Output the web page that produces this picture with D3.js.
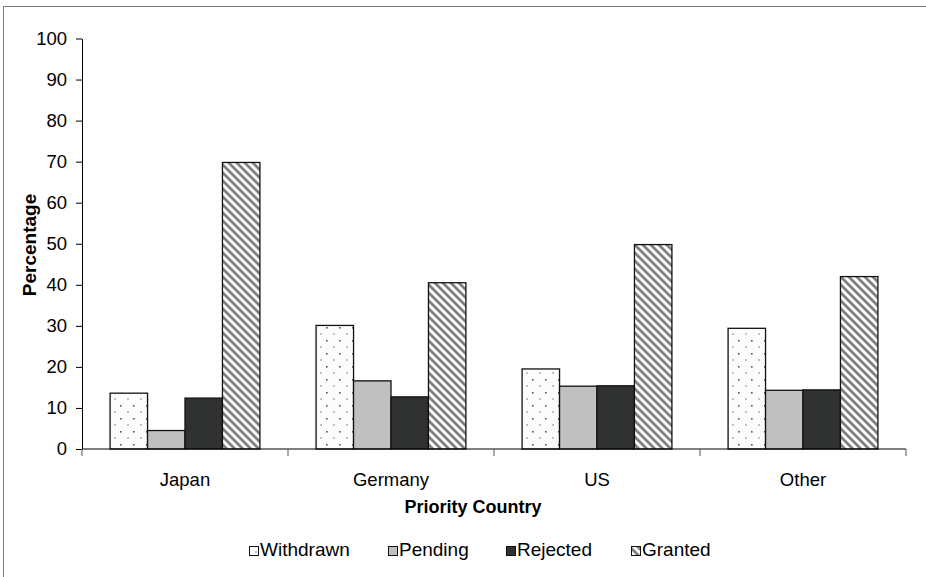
<!DOCTYPE html>
<html>
<head>
<meta charset="utf-8">
<script src="https://cdn.jsdelivr.net/npm/d3@7/dist/d3.min.js"></script>
<style>
  html, body { margin: 0; padding: 0; background: #fff; }
  svg { display: block; font-family: "Liberation Sans", Arial, sans-serif; }
</style>
</head>
<body>
<svg id="chart" width="926" height="577"></svg>
<script>
// Share of applications by outcome, per priority country (%)
const categories = ["Japan", "Germany", "US", "Other"];
const seriesNames = ["Withdrawn", "Pending", "Rejected", "Granted"];
const withdrawn = [13.6, 30.1, 19.5, 29.4];
const pending   = [4.5, 16.6, 15.3, 14.3];
const rejected  = [12.4, 12.7, 15.4, 14.4];
const granted   = [69.8, 40.5, 49.8, 42.0];
const yTicks = [0, 10, 20, 30, 40, 50, 60, 70, 80, 90, 100];

const seriesValues = [withdrawn, pending, rejected, granted];

const svg = d3.select("#chart");
const W = 926, H = 577;

// Chart frame
svg.append("rect")
  .attr("x", 3.5).attr("y", 6.5)
  .attr("width", W + 10).attr("height", H + 10)
  .attr("fill", "#fff").attr("stroke", "#7a7a7a").attr("stroke-width", 1);

// Fill patterns
const defs = svg.append("defs");
const dots = defs.append("pattern")
  .attr("id", "pat-dots").attr("patternUnits", "userSpaceOnUse")
  .attr("width", 13).attr("height", 13).attr("x", 110).attr("y", 0);
dots.append("rect").attr("width", 13).attr("height", 13).attr("fill", "#fcfcfc");
dots.append("rect").attr("x", 6).attr("y", 2).attr("width", 1.6).attr("height", 1.6).attr("fill", "#555");
dots.append("rect").attr("x", 0).attr("y", 8.5).attr("width", 2).attr("height", 1).attr("fill", "#888");

const stripes = defs.append("pattern")
  .attr("id", "pat-stripes").attr("patternUnits", "userSpaceOnUse")
  .attr("width", 8).attr("height", 8);
stripes.append("rect").attr("width", 8).attr("height", 8).attr("fill", "#fff");
stripes.append("path")
  .attr("d", "M-2,6 L2,10 M0,0 L8,8 M6,-2 L10,2")
  .attr("stroke", "#808080").attr("stroke-width", 2.8);

const fills = {
  Withdrawn: "url(#pat-dots)",
  Pending: "#c0c0c0",
  Rejected: "#303231",
  Granted: "url(#pat-stripes)"
};

// Scales
const x0 = d3.scaleBand().domain(categories).range([82, 906]).padding(0);
const x1 = d3.scaleBand().domain(seriesNames).range([0, x0.bandwidth()])
  .paddingInner(0).paddingOuter(0.75);
const y = d3.scaleLinear().domain([0, 100]).range([449, 38.5]);

// Bars
const groups = svg.append("g").selectAll("g")
  .data(categories).join("g")
  .attr("transform", d => `translate(${x0(d)},0)`);

groups.selectAll("rect")
  .data((c, ci) => seriesNames.map((s, si) => ({ s, v: seriesValues[si][ci] })))
  .join("rect")
  .attr("x", d => x1(d.s))
  .attr("y", d => y(d.v))
  .attr("width", x1.bandwidth())
  .attr("height", d => y(0) - y(d.v))
  .attr("fill", d => fills[d.s])
  .attr("stroke", "#111")
  .attr("stroke-width", 1.3);

// Y axis
const yAxis = svg.append("g")
  .attr("transform", "translate(82,0)")
  .call(d3.axisLeft(y).tickValues(yTicks).tickSize(6).tickPadding(9).tickSizeOuter(0));
yAxis.select(".domain").attr("stroke", "#000");
yAxis.selectAll(".tick line").attr("stroke", "#000");
yAxis.selectAll(".tick text")
  .attr("font-size", 18.5).attr("fill", "#000")
  .attr("font-family", "'Liberation Sans', Arial, sans-serif");

// X axis with ticks at category boundaries
const xAxis = svg.append("g").attr("transform", `translate(0,${y(0)})`);
xAxis.append("line")
  .attr("x1", 82).attr("x2", 906).attr("stroke", "#000").attr("stroke-width", 1);
xAxis.selectAll("line.sep")
  .data(categories.map(c => x0(c)).concat([x0.range()[1]]))
  .join("line").attr("class", "sep")
  .attr("x1", d => d).attr("x2", d => d)
  .attr("y1", 0).attr("y2", 7)
  .attr("stroke", "#555");
xAxis.selectAll("text")
  .data(categories).join("text")
  .attr("x", d => x0(d) + x0.bandwidth() / 2)
  .attr("y", 37)
  .attr("text-anchor", "middle")
  .attr("font-size", 18.5)
  .text(d => d);

// Axis titles
svg.append("text")
  .attr("x", 473).attr("y", 513)
  .attr("text-anchor", "middle")
  .attr("font-size", 18).attr("font-weight", "bold")
  .text("Priority Country");

svg.append("text")
  .attr("transform", "translate(36,245) rotate(-90)")
  .attr("text-anchor", "middle")
  .attr("font-size", 19).attr("font-weight", "bold")
  .text("Percentage");

// Legend
const legendX = [249, 388, 506, 631];
const legend = svg.append("g").selectAll("g")
  .data(seriesNames).join("g")
  .attr("transform", (d, i) => `translate(${legendX[i]},556)`);
legend.append("rect")
  .attr("x", 0.5).attr("y", -9.5)
  .attr("width", 9).attr("height", 9)
  .attr("fill", d => fills[d])
  .attr("stroke", "#111").attr("stroke-width", 1);
legend.append("text")
  .attr("x", 11).attr("y", 0)
  .attr("font-size", 19)
  .text(d => d);
</script>
</body>
</html>
